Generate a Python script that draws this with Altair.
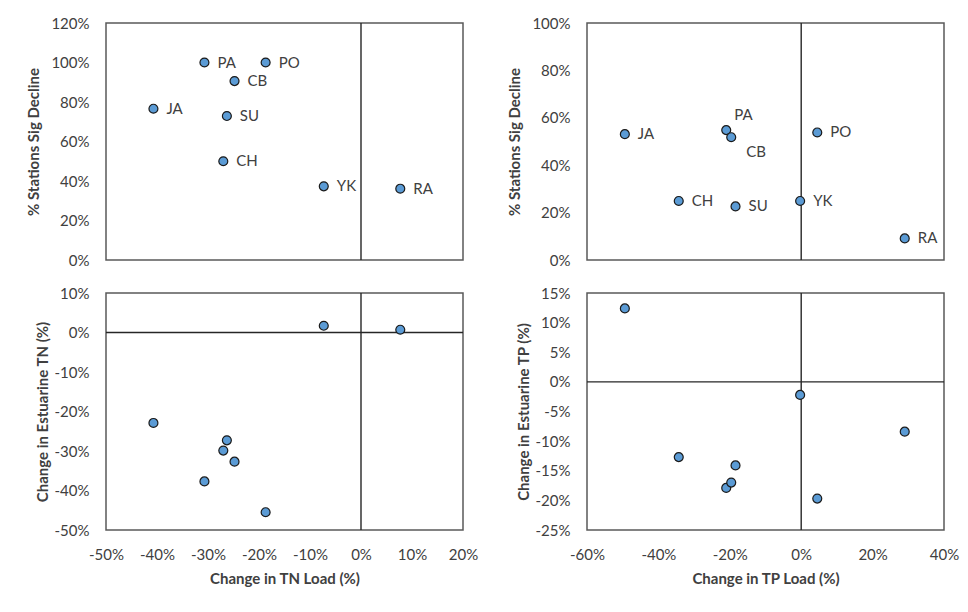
import altair as alt
import pandas as pd

stations = ["JA", "PA", "CB", "PO", "CH", "SU", "YK", "RA"]
tn_load = [-40.7, -30.7, -24.8, -18.7, -27.0, -26.3, -7.3, 7.7]
tn_sig_decline = [76.6, 100.0, 90.6, 100.0, 50.0, 72.9, 37.3, 36.1]
tn_estuarine = [-22.9, -37.7, -32.7, -45.5, -29.9, -27.3, 1.7, 0.7]
tp_load = [-49.4, -21.0, -19.6, 4.5, -34.3, -18.4, -0.3, 29.0]
tp_sig_decline = [53.1, 54.8, 51.8, 53.8, 24.9, 22.6, 24.9, 9.1]
tp_estuarine = [12.4, -17.9, -17.0, -19.7, -12.7, -14.1, -2.2, -8.4]

tn_x_ticks = [-50, -40, -30, -20, -10, 0, 10, 20]
tp_x_ticks = [-60, -40, -20, 0, 20, 40]
tn_sig_ticks = [0, 20, 40, 60, 80, 100, 120]
tp_sig_ticks = [0, 20, 40, 60, 80, 100]
tn_est_ticks = [10, 0, -10, -20, -30, -40, -50]
tp_est_ticks = [15, 10, 5, 0, -5, -10, -15, -20, -25]

df = pd.DataFrame({
    "station": stations,
    "tn_load": tn_load,
    "tn_sig": tn_sig_decline,
    "tn_est": tn_estuarine,
    "tp_load": tp_load,
    "tp_sig": tp_sig_decline,
    "tp_est": tp_estuarine,
})

TEXT = "#404040"
FONT = "Lato"
W, H = 357, 237
pct = "datum.value + '%'"


def panel(xcol, ycol, xticks, yticks, ytitle, xtitle=None, show_x=False,
          hline=False, labels=None, special=None, ytitle_pad=9):
    xscale = alt.Scale(domain=[min(xticks), max(xticks)], nice=False, zero=False)
    yscale = alt.Scale(domain=[min(yticks), max(yticks)], nice=False, zero=False)
    if show_x:
        xaxis = alt.Axis(values=xticks, labelExpr=pct, title=xtitle,
                         labelFlush=False, titlePadding=9)
    else:
        xaxis = None
    yaxis = alt.Axis(values=yticks, labelExpr=pct, title=ytitle,
                     titlePadding=ytitle_pad)
    xenc = alt.X(f"{xcol}:Q", scale=xscale, axis=xaxis)
    yenc = alt.Y(f"{ycol}:Q", scale=yscale, axis=yaxis)
    base = alt.Chart(df)
    layers = []
    vrule = base.mark_rule(color="#262626", strokeWidth=1.4).encode(
        x=alt.XDatum(0, type="quantitative", scale=xscale, axis=xaxis)
    ).transform_filter(alt.datum.station == "JA")
    layers.append(vrule)
    if hline:
        hrule = base.mark_rule(color="#262626", strokeWidth=1.4).encode(
            y=alt.YDatum(0, type="quantitative", scale=yscale, axis=yaxis)
        ).transform_filter(alt.datum.station == "JA")
        layers.append(hrule)
    pts = base.mark_point(filled=True, shape="circle", size=80, fill="#5B9BD5",
                          stroke="#1a1a1a", strokeWidth=1.2, opacity=1).encode(
        x=xenc, y=yenc)
    layers.append(pts)
    if labels:
        special = special or {}
        normal = [s for s in stations if s not in special]
        txt = base.mark_text(align="left", baseline="middle", dx=13, font=FONT,
                             fontSize=15, color=TEXT).encode(
            x=xenc, y=yenc, text="station:N"
        ).transform_filter(alt.FieldOneOfPredicate(field="station", oneOf=normal))
        layers.append(txt)
        for s, (dx, dy) in special.items():
            t = base.mark_text(align="left", baseline="middle", dx=dx, dy=dy,
                               font=FONT, fontSize=15, color=TEXT).encode(
                x=xenc, y=yenc, text="station:N"
            ).transform_filter(alt.datum.station == s)
            layers.append(t)
    return alt.layer(*layers).properties(width=W, height=H)


tl = panel("tn_load", "tn_sig", tn_x_ticks, tn_sig_ticks, "% Stations Sig Decline",
           labels=True, ytitle_pad=9)
tr = panel("tp_load", "tp_sig", tp_x_ticks, tp_sig_ticks, "% Stations Sig Decline",
           labels=True, special={"PA": (8, -15), "CB": (15, 15)}, ytitle_pad=9)
bl = panel("tn_load", "tn_est", tn_x_ticks, tn_est_ticks, "Change in Estuarine TN (%)",
           xtitle="Change in TN Load (%)", show_x=True, hline=True, ytitle_pad=4)
br = panel("tp_load", "tp_est", tp_x_ticks, tp_est_ticks, "Change in Estuarine TP (%)",
           xtitle="Change in TP Load (%)", show_x=True, hline=True, ytitle_pad=4)

chart = alt.concat(tl, tr, bl, br, columns=2,
                   spacing={"row": 33, "column": 124},
                   bounds="flush").properties(
    padding={"left": 18, "top": 7, "right": 0, "bottom": 0},
    background="white",
).configure_view(
    stroke="#595959", strokeWidth=1.5
).configure_axis(
    labelFont=FONT, labelFontSize=15, labelColor=TEXT,
    titleFont=FONT, titleFontSize=15, titleFontWeight="bold", titleColor=TEXT,
    ticks=False, domain=False, grid=False, labelPadding=17,
)

chart.save("out.html", embed_options={"renderer": "svg", "actions": False})
